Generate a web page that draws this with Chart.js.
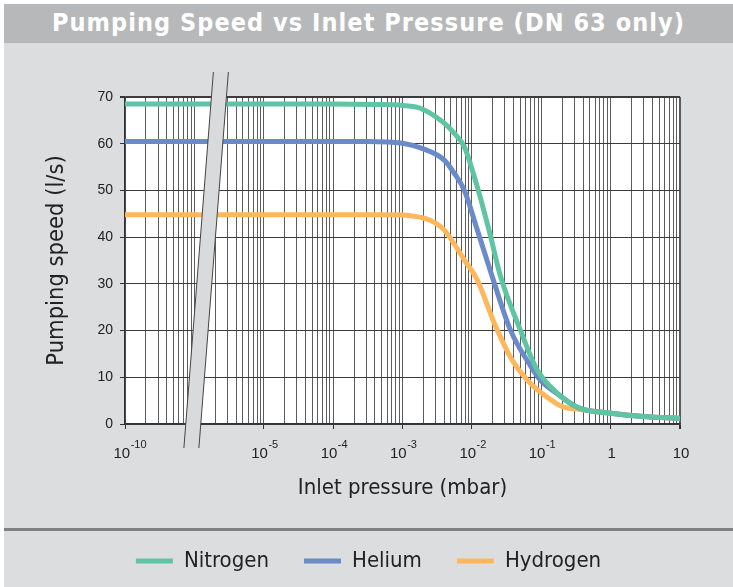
<!DOCTYPE html>
<html>
<head>
<meta charset="utf-8">
<script src="https://cdn.jsdelivr.net/npm/chart.js@4.4.0/dist/chart.umd.min.js"></script>
<style>
  body { margin: 0; background: #fff; width: 733px; height: 587px; overflow: hidden; position: relative; }
  #titleBar {
    position: absolute; left: 4px; top: 4px; width: 729px; height: 39px; overflow: hidden;
    background: #b7b8ba; color: #fff; text-align: center; line-height: 39px; white-space: nowrap;
    font: bold 25px "DejaVu Sans Condensed", sans-serif; letter-spacing: 1.05px;
  }
  #titleBar span { position: relative; top: 4px; }
  #box { position: absolute; left: 4px; top: 43px; width: 729px; height: 544px; background: #dcdddf; }
</style>
</head>
<body>
<div id="titleBar"><span>Pumping Speed vs Inlet Pressure (DN 63 only)</span></div>
<div id="box"><canvas id="chart" width="729" height="544"></canvas></div>
<script>
const seriesNames = ["Nitrogen", "Helium", "Hydrogen"];
const seriesColors = ["#5ec4a3", "#6a8ac9", "#ffb75c"];

// inlet pressure (mbar) / pumping speed (l/s)
const nitrogenP = [1e-10, 1e-4, 4e-4, 1e-3, 1.8e-3, 4e-3, 5.5e-3, 7.8e-3, 1.2e-2, 1.8e-2, 2.6e-2, 5e-2, 8.7e-2, 0.17, 0.33, 1, 3, 10];
const nitrogenS = [68.5, 68.5, 68.4, 68.2, 67.6, 64.4, 62.3, 59.3, 50.7, 41, 31.5, 20.1, 11.6, 6.6, 3.6, 2.3, 1.6, 1.2];
const heliumP = [1e-10, 3e-4, 1e-3, 2e-3, 4e-3, 5.5e-3, 7.8e-3, 1.2e-2, 1.97e-2, 3.6e-2, 6.9e-2, 9.7e-2, 0.17, 0.33, 1, 3, 10];
const heliumS = [60.5, 60.5, 60.1, 58.9, 56.5, 53.8, 50, 41.5, 31.5, 20.1, 12.6, 9.4, 6.5, 3.6, 2.3, 1.6, 1.2];
const hydrogenP = [1e-10, 6e-4, 1.3e-3, 2.5e-3, 4e-3, 7.8e-3, 1.2e-2, 2.1e-2, 3.6e-2, 6.3e-2, 0.11, 0.21, 0.33, 1, 3, 10];
const hydrogenS = [44.8, 44.8, 44.6, 43.6, 41.5, 35.1, 30.8, 21.6, 14.3, 9.4, 6.2, 3.6, 3.2, 2.3, 1.6, 1.2];

const yTicks = [0, 10, 20, 30, 40, 50, 60, 70];
const xTickValues = [1e-10, 1e-5, 1e-4, 1e-3, 1e-2, 1e-1, 1, 10];
const xTickBase = ["10", "10", "10", "10", "10", "10", "1", "10"];
const xTickExp = ["-10", "-5", "-4", "-3", "-2", "-1", "", ""];

// broken axis: the decade 1e-10..1e-9 is drawn where 1e-7..1e-6 would be
function toAxis(p) {
    return p < 1e-8 ? p * 1000 : p;
}

const gridValues = [];
for (let e = -7; e <= 0; e++) {
    for (let n = 1; n <= 9; n++) gridValues.push(n * Math.pow(10, e));
}
gridValues.push(10);

const labelPos = xTickValues.map(toAxis);
function labelIndex(v) {
    return labelPos.findIndex(m => Math.abs(Math.log10(m) - Math.log10(v)) < 1e-6);
}

const fontFamily = '"DejaVu Sans Condensed", sans-serif';
const tickFamily = '"Liberation Sans", sans-serif';

function makeSet(i, ps, ss) {
    return {
        label: seriesNames[i],
        data: ps.map((p, k) => ({ x: toAxis(p), y: ss[k] })),
        borderColor: seriesColors[i],
        backgroundColor: seriesColors[i],
        borderWidth: 5,
        pointRadius: 0,
        cubicInterpolationMode: 'monotone'
    };
}

const plotBackground = {
    id: 'plotBackground',
    afterLayout(chart) {
        // centre the legend on the whole figure, not on the plot's box
        chart.legend.right = chart.width;
        chart.legend.width = chart.width - chart.legend.left;
    },
    beforeDraw(chart) {
        const { ctx, chartArea } = chart;
        ctx.save();
        ctx.fillStyle = '#fff';
        ctx.fillRect(chartArea.left, chartArea.top, chartArea.right - chartArea.left, chartArea.bottom - chartArea.top);
        ctx.restore();
    }
};

const axisExtras = {
    id: 'axisExtras',
    afterDraw(chart) {
        const { ctx, chartArea } = chart;
        const xs = chart.scales.x;

        // x tick labels with raised exponents
        ctx.save();
        ctx.fillStyle = '#222';
        ctx.textBaseline = 'alphabetic';
        ctx.textAlign = 'left';
        xTickValues.forEach((v, i) => {
            const px = xs.getPixelForValue(toAxis(v)) + 1;
            ctx.font = '15px ' + tickFamily;
            const w1 = ctx.measureText(xTickBase[i]).width;
            ctx.font = '11px ' + tickFamily;
            const w2 = xTickExp[i] ? ctx.measureText(xTickExp[i]).width + 0.5 : 0;
            const x0 = px - (w1 + w2) / 2 + (i === 0 ? 4 : 0);
            ctx.font = '15px ' + tickFamily;
            ctx.fillText(xTickBase[i], x0, chartArea.bottom + 34);
            if (xTickExp[i]) {
                ctx.font = '11px ' + tickFamily;
                ctx.fillText(xTickExp[i], x0 + w1 + 0.5, chartArea.bottom + 23.5);
            }
        });
        ctx.restore();

        // axis break
        const x0 = xs.getPixelForValue(1e-6);
        const yTop = chartArea.top - 25, yBot = chartArea.bottom + 24;
        const topC = x0 + 26.5, botC = x0 - 3, half = 7.5;
        ctx.save();
        ctx.beginPath();
        ctx.moveTo(topC - half, yTop);
        ctx.lineTo(topC + half, yTop);
        ctx.lineTo(botC + half, yBot);
        ctx.lineTo(botC - half, yBot);
        ctx.closePath();
        ctx.fillStyle = '#d9dadc';
        ctx.fill();
        ctx.strokeStyle = '#444';
        ctx.lineWidth = 1;
        ctx.beginPath();
        ctx.moveTo(topC - half, yTop);
        ctx.lineTo(botC - half, yBot);
        ctx.moveTo(topC + half, yTop);
        ctx.lineTo(botC + half, yBot);
        ctx.stroke();
        // separator above the legend
        ctx.fillStyle = '#808080';
        ctx.fillRect(0, chart.legend.top + 13, chart.width, 3);
        ctx.restore();
    }
};

new Chart(document.getElementById("chart"), {
    type: 'line',
    data: {
        datasets: [
            makeSet(0, nitrogenP, nitrogenS),
            makeSet(1, heliumP, heliumS),
            makeSet(2, hydrogenP, hydrogenS)
        ]
    },
    options: {
        responsive: false,
        animation: false,
        layout: { padding: { top: 54, right: 53, left: 0, bottom: 5 } },
        scales: {
            x: {
                type: 'logarithmic',
                min: 1e-7,
                max: 10,
                afterBuildTicks: s => { s.ticks = gridValues.map(v => ({ value: v })); },
                afterFit: s => { s.height = 91; },
                ticks: { autoSkip: false, maxRotation: 0, minRotation: 0, callback: () => '' },
                grid: {
                    color: '#5c5c5c',
                    lineWidth: c => (c.tick && c.tick.value === 10 ? 2 : 1),
                    tickLength: 5,
                    tickColor: c => (c.tick && labelIndex(c.tick.value) >= 0 ? '#333' : 'rgba(0,0,0,0)')
                },
                border: { color: '#333', width: 1.5 },
                title: {
                    display: true, text: 'Inlet pressure (mbar)', color: '#222',
                    font: { family: fontFamily, size: 22 }, padding: { top: 0, bottom: 14 }
                }
            },
            y: {
                min: 0,
                max: 70,
                afterBuildTicks: s => { s.ticks = yTicks.map(v => ({ value: v })); },
                afterFit: s => { s.width = 121; },
                ticks: { padding: 7, color: '#222', font: { family: tickFamily, size: 14 } },
                grid: {
                    color: '#3c3c3c',
                    lineWidth: c => (c.tick && c.tick.value === 70 ? 2 : 1),
                    tickLength: 5,
                    tickColor: '#333'
                },
                border: { color: '#333', width: 1.5 },
                title: {
                    display: true, text: 'Pumping speed (l/s)', color: '#222',
                    font: { family: fontFamily, size: 23.5 }, padding: { top: 39, bottom: 0 }
                }
            }
        },
        plugins: {
            tooltip: { enabled: false },
            legend: {
                position: 'bottom',
                align: 'center',
                labels: {
                    boxWidth: 37, boxHeight: 5, padding: 35, color: '#222',
                    font: { family: fontFamily, size: 22 },
                    generateLabels: chart => Chart.defaults.plugins.legend.labels.generateLabels(chart)
                        .map(l => Object.assign(l, { lineWidth: 0 }))
                }
            }
        }
    },
    plugins: [plotBackground, axisExtras]
});
</script>
</body>
</html>
